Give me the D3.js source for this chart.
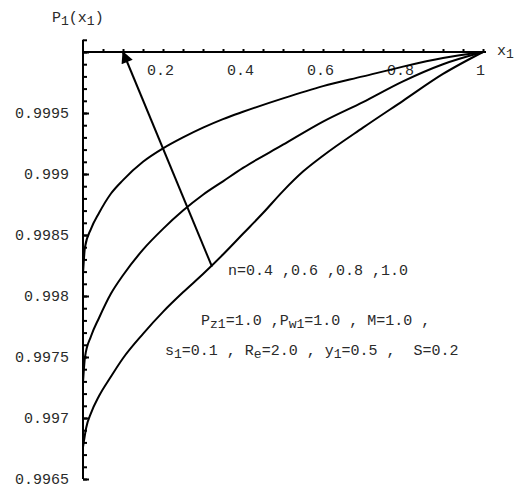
<!DOCTYPE html>
<html>
<head>
<meta charset="utf-8">
<script src="https://cdn.jsdelivr.net/npm/d3@7"></script>
<style>
  html, body { margin: 0; padding: 0; background: #fff; }
  svg text { font-family: "Liberation Mono", "DejaVu Sans Mono", monospace; fill: #2a2a2a; white-space: pre; }
</style>
</head>
<body>
<svg id="chart" width="515" height="490"></svg>
<script>
// P1(x1) for n = 0.4, 0.6, 0.8, 1.0 (upper curve lies over two of them)
const xTop = [0, 0.005, 0.02, 0.04, 0.07, 0.1, 0.15, 0.2, 0.25, 0.3, 0.35, 0.4, 0.5, 0.6, 0.7, 0.8, 0.9, 1];
const yTop = [0.99818, 0.99840, 0.99855, 0.99868, 0.99884, 0.99895, 0.99910, 0.99921, 0.99930, 0.99938, 0.99945, 0.99951, 0.99962, 0.99972, 0.99980, 0.99988, 0.99995, 1.0];

const xMid = [0, 0.005, 0.02, 0.04, 0.07, 0.1, 0.15, 0.2, 0.25, 0.3, 0.35, 0.4, 0.5, 0.6, 0.7, 0.8, 0.9, 1];
const yMid = [0.99729, 0.99750, 0.99767, 0.99782, 0.99802, 0.99817, 0.99838, 0.99855, 0.99870, 0.99883, 0.99894, 0.99905, 0.99924, 0.99943, 0.99959, 0.99976, 0.99990, 1.0];

const xLow = [0, 0.008, 0.02, 0.04, 0.07, 0.1, 0.15, 0.2, 0.25, 0.3, 0.35, 0.4, 0.45, 0.5, 0.55, 0.6, 0.7, 0.8, 0.9, 1];
const yLow = [0.99676, 0.99692, 0.99704, 0.99718, 0.99734, 0.99749, 0.99769, 0.99787, 0.99803, 0.99818, 0.99834, 0.99851, 0.99868, 0.99886, 0.99902, 0.99915, 0.99938, 0.99960, 0.99982, 1.0];

const xTickLabels = [0.2, 0.4, 0.6, 0.8, 1];
const yTickLabels = [0.9965, 0.997, 0.9975, 0.998, 0.9985, 0.999, 0.9995];

// arrow annotation: from the label to the point it indicates
const arrowFrom = [0.3225, 0.99824];
const arrowTo = [0.1, 1.0];

const svg = d3.select("#chart");

const x = d3.scaleLinear().domain([0, 1]).range([83, 483]);
const y = d3.scaleLinear().domain([0.9965, 1.0]).range([479, 52]);

// ---- y axis (ticks point right, labels on the left)
const yMinor = d3.range(0, 37).map(i => +(0.9965 + i * 0.0001).toFixed(4));
const yMajor = yMinor.filter(v => Math.round(v * 10000) % 5 === 0);

svg.append("g")
  .attr("transform", `translate(${x(0)},0)`)
  .call(d3.axisRight(y).tickValues(yMinor).tickSize(4).tickFormat(""))
  .call(g => g.select(".domain").remove())
  .call(g => g.selectAll("line").attr("stroke", "#000").attr("stroke-width", 2));

svg.append("g")
  .attr("transform", `translate(${x(0)},0)`)
  .call(d3.axisRight(y).tickValues(yMajor).tickSize(6).tickFormat(""))
  .call(g => g.select(".domain").remove())
  .call(g => g.selectAll("line").attr("stroke", "#000").attr("stroke-width", 2));

svg.append("g")
  .attr("transform", `translate(${x(0)},0)`)
  .call(d3.axisLeft(y).tickValues(yTickLabels).tickSize(0).tickPadding(14).tickFormat(d => String(d)))
  .call(g => g.select(".domain").remove())
  .call(g => g.selectAll("text").style("font-size", "15px").style("font-family", "Liberation Mono").attr("fill", "#2a2a2a"));

svg.append("line")
  .attr("x1", x(0)).attr("x2", x(0))
  .attr("y1", y(1.0001)).attr("y2", y(0.9965))
  .attr("stroke", "#000").attr("stroke-width", 2);

// ---- x axis at P1 = 1 (ticks point up, labels below)
const xMinor = d3.range(1, 21).map(i => +(i * 0.05).toFixed(2));

svg.append("g")
  .attr("transform", `translate(0,${y(1.0)})`)
  .call(d3.axisTop(x).tickValues(xMinor).tickSize(3).tickFormat(""))
  .call(g => g.select(".domain").remove())
  .call(g => g.selectAll("line").attr("stroke", "#000").attr("stroke-width", 2));

svg.append("g")
  .attr("transform", `translate(-3,${y(1.0)})`)
  .call(d3.axisBottom(x).tickValues(xTickLabels).tickSize(0).tickPadding(12).tickFormat(d => String(d)))
  .call(g => g.select(".domain").remove())
  .call(g => g.selectAll("text").style("font-size", "15px").style("font-family", "Liberation Mono").attr("fill", "#2a2a2a"));

svg.append("line")
  .attr("x1", x(0)).attr("x2", x(1) + 3)
  .attr("y1", y(1.0)).attr("y2", y(1.0))
  .attr("stroke", "#000").attr("stroke-width", 2);

// ---- curves
const line = d3.line()
  .x(d => x(d[0]))
  .y(d => y(d[1]))
  .curve(d3.curveMonotoneX);

[[xTop, yTop], [xMid, yMid], [xLow, yLow]].forEach(([xs, ys]) => {
  svg.append("path")
    .datum(xs.map((v, i) => [v, ys[i]]))
    .attr("d", line)
    .attr("fill", "none")
    .attr("stroke", "#000")
    .attr("stroke-width", 2);
});

// ---- arrow
svg.append("defs").append("marker")
  .attr("id", "head")
  .attr("viewBox", "0 0 10 10")
  .attr("refX", 9).attr("refY", 5)
  .attr("markerUnits", "userSpaceOnUse")
  .attr("markerWidth", 18).attr("markerHeight", 12)
  .attr("orient", "auto")
  .append("path")
  .attr("d", "M0,0 L10,5 L0,10 Z")
  .attr("fill", "#000");

svg.append("line")
  .attr("x1", x(arrowFrom[0])).attr("y1", y(arrowFrom[1]))
  .attr("x2", x(arrowTo[0])).attr("y2", y(arrowTo[1]))
  .attr("stroke", "#000").attr("stroke-width", 2)
  .attr("marker-end", "url(#head)");

// ---- text
const txt = (xp, yp) => svg.append("text").attr("x", xp).attr("y", yp).style("font-size", "15px");
const sub = (t, s) => {
  t.append("tspan").attr("dy", 3).style("font-size", "13px").text(s);
  return t;
};
const main = (t, s, back) => {
  t.append("tspan").attr("dy", back ? -3 : 0).text(s);
  return t;
};

// axis titles
{
  const t = txt(52, 22);
  main(t, "P"); sub(t, "1"); main(t, "(x", true); sub(t, "1"); main(t, ")", true);
}
{
  const t = txt(497, 55);
  main(t, "x"); sub(t, "1");
}

txt(228, 275).text("n=0.4 ,0.6 ,0.8 ,1.0");

{
  const t = txt(201, 325);
  main(t, "P"); sub(t, "z1"); main(t, "=1.0 ,P", true); sub(t, "w1"); main(t, "=1.0 , M=1.0 ,", true);
}
{
  const t = txt(165, 355);
  main(t, "s"); sub(t, "1"); main(t, "=0.1 , R", true); sub(t, "e"); main(t, "=2.0 , y", true); sub(t, "1"); main(t, "=0.5 ,  S=0.2", true);
}
</script>
</body>
</html>
